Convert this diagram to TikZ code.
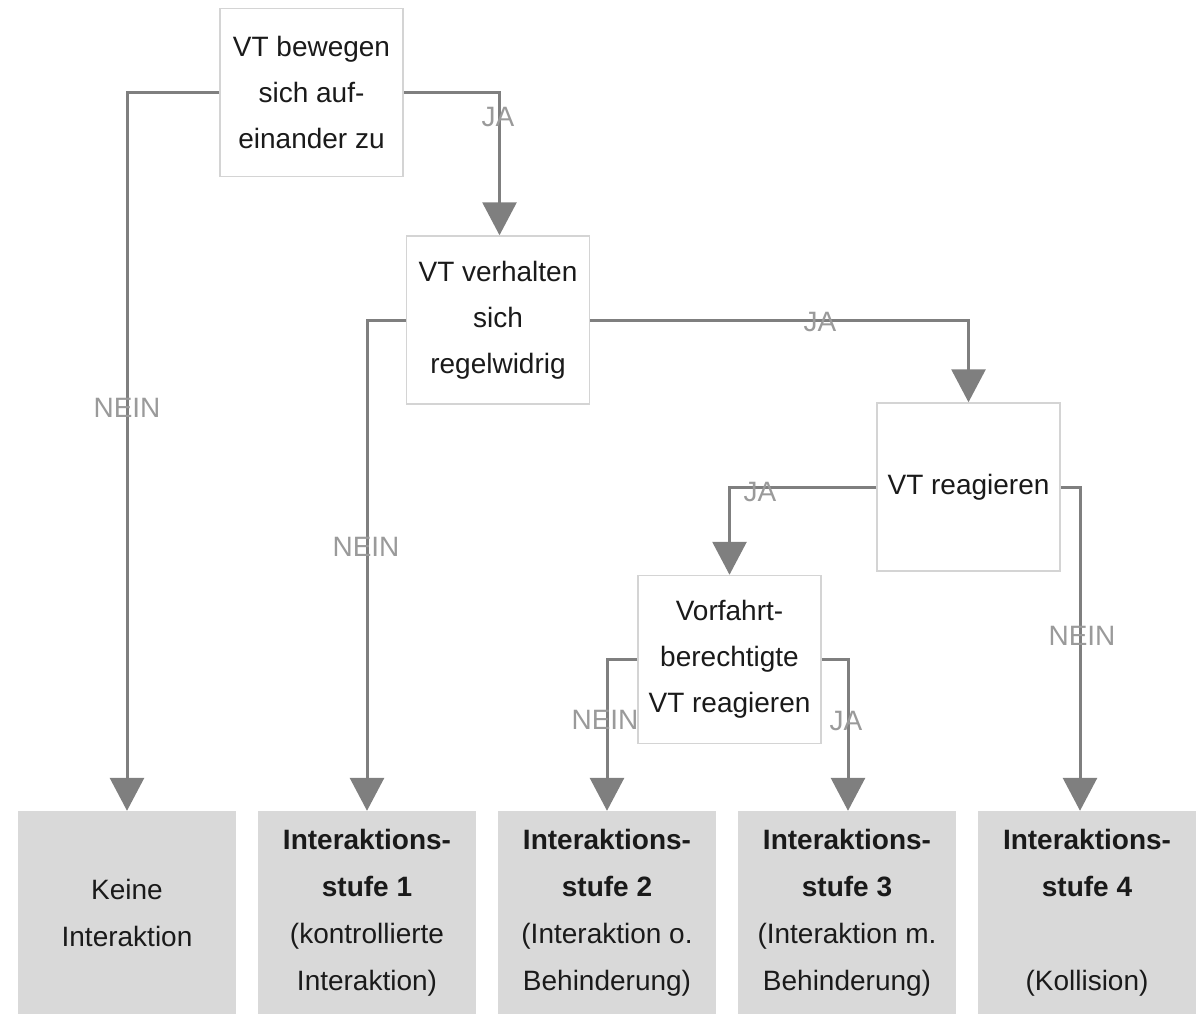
\documentclass[tikz,border=0pt]{standalone}
\usepackage{fontspec}
\setmainfont{Liberation Sans}
\usetikzlibrary{arrows.meta}
\definecolor{conncol}{HTML}{7F7F7F}
\definecolor{lblcol}{HTML}{9A9A9A}
\definecolor{boxline}{HTML}{D4D4D4}
\definecolor{boxfill}{HTML}{D9D9D9}
\definecolor{txtcol}{HTML}{1A1A1A}
\begin{document}
\begin{tikzpicture}[x=1pt,y=-1pt,
  decision/.style={draw=boxline,line width=1.5pt,fill=white,minimum width=183pt,minimum height=168pt,
    align=center,inner sep=0pt,text=txtcol,font=\fontsize{28}{46}\selectfont},
  result/.style={fill=boxfill,minimum width=218pt,minimum height=203pt,inner sep=0pt,
    align=center,text=txtcol,font=\fontsize{28}{47}\selectfont},
  conn/.style={draw=conncol,line width=3pt,-{Triangle[width=34pt,length=33pt]}},
  lbl/.style={text=lblcol,font=\fontsize{28}{34}\selectfont,inner sep=0pt}]
\useasboundingbox (0,0) rectangle (1204,1014);
% decision boxes
\node[decision] (A) at (311.5,92.5) {VT bewegen\\sich auf-\\einander zu};
\node[decision] (B) at (498,320) {VT verhalten\\sich\\regelwidrig};
\node[decision] (C) at (968.5,487) {VT reagieren};
\node[decision] (D) at (729.5,659.5) {Vorfahrt-\\berechtigte\\VT reagieren};
% result boxes
\node[result] (R0) at (127,912.5) {Keine\\Interaktion};
\node[result] (R1) at (367,912.5) {\textbf{Interaktions-}\\\textbf{stufe 1}\\(kontrollierte\\Interaktion)};
\node[result] (R2) at (607,912.5) {\textbf{Interaktions-}\\\textbf{stufe 2}\\(Interaktion o.\\Behinderung)};
\node[result] (R3) at (847,912.5) {\textbf{Interaktions-}\\\textbf{stufe 3}\\(Interaktion m.\\Behinderung)};
\node[result] (R4) at (1087,912.5) {\textbf{Interaktions-}\\\textbf{stufe 4}\\\mbox{}\\(Kollision)};
% connectors
\draw[conn] (A.west) -| (R0.north);
\draw[conn] (A.east) -| ([xshift=1.5pt]B.north);
\draw[conn] (B.west) -| (R1.north);
\draw[conn] (B.east) -| (C.north);
\draw[conn] (C.west) -| (D.north);
\draw[conn] (C.east) -| ([xshift=-7pt]R4.north);
\draw[conn] (D.west) -| (R2.north);
\draw[conn] (D.east) -| ([xshift=1pt]R3.north);
% labels
\node[lbl] (l1) at (498,117) {JA};
\node[lbl] (l2) at (127,408) {NEIN};
\node[lbl] (l3) at (366,547) {NEIN};
\node[lbl] (l4) at (820,322) {JA};
\node[lbl] (l5) at (760,492) {JA};
\node[lbl] (l6) at (1082,636) {NEIN};
\node[lbl] (l7) at (605,720) {NEIN};
\node[lbl] (l8) at (846,721) {JA};
\end{tikzpicture}
\end{document}
